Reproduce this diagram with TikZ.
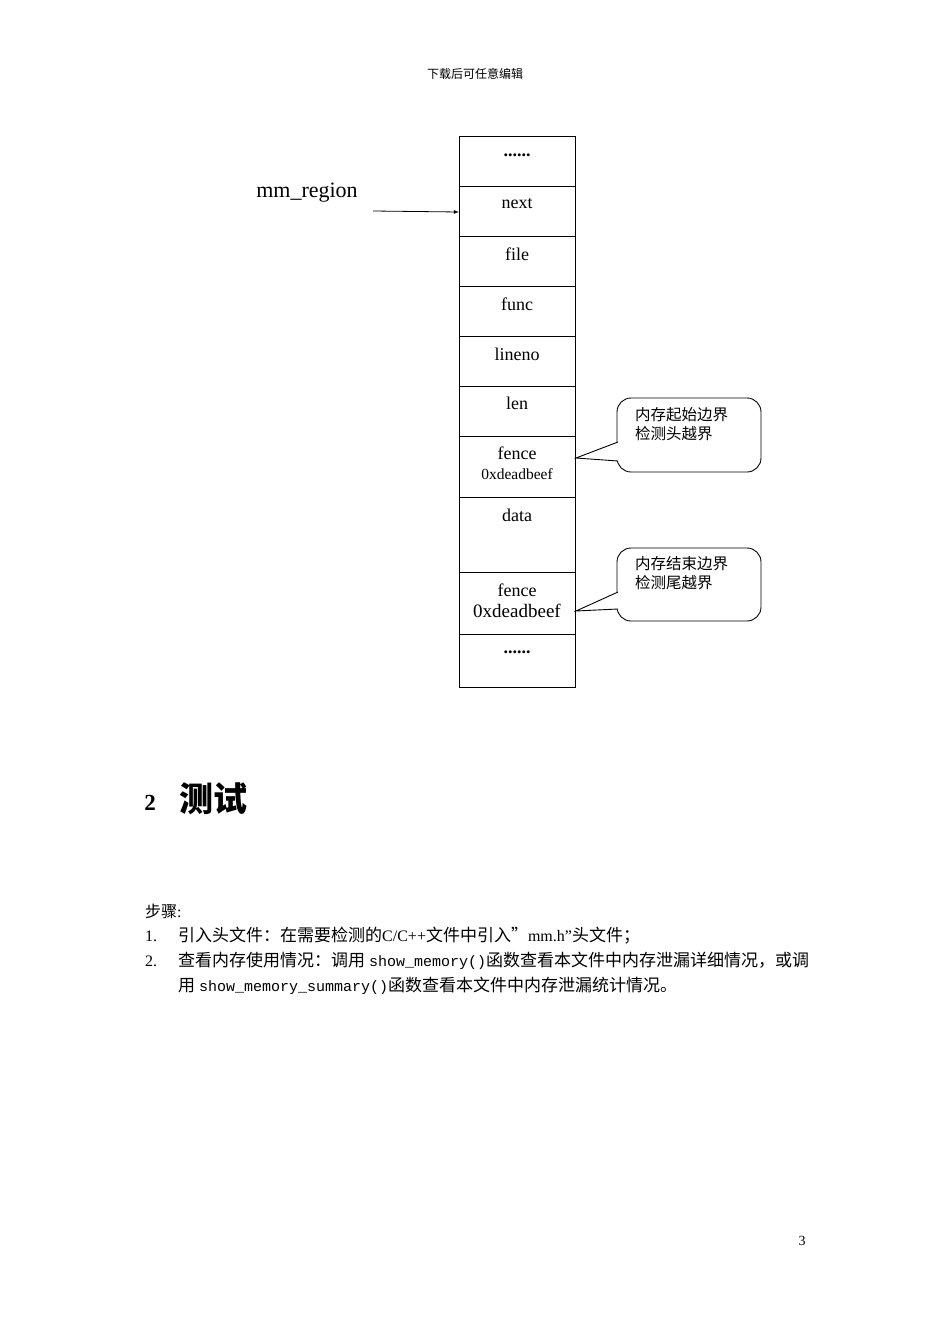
\documentclass[tikz,border=0pt]{standalone}
\usepackage{fontspec}
\setmainfont{Liberation Serif}
\setmonofont{Liberation Mono}
\newfontfamily\cjk{Noto Sans CJK SC}
\begin{document}
\begin{tikzpicture}[x=1pt,y=-1pt,
  cell/.style={draw,line width=0.9pt},
  lab/.style={font=\fontsize{18}{20}\selectfont,inner sep=0},
  note/.style={draw,line width=0.9pt,rounded corners=14pt,fill=white},
  ntext/.style={font=\fontsize{15.5}{19}\selectfont\cjk,align=left,anchor=north west,inner sep=0},
  body/.style={font=\fontsize{16}{18}\selectfont,anchor=west,inner sep=0}]
\useasboundingbox (0,0) rectangle (950,1344);
\node[font=\fontsize{12}{14}\selectfont\cjk] (hdr) at (475,74) {下载后可任意编辑};
% stack
\foreach \a/\b [count=\i] in {136/186,186/236,236/286,286/336,336/386,386/436,436/497,497/572,572/634,634/687}
  \draw[cell] (459,\a) rectangle (575,\b);
\node[lab,font=\fontsize{18}{20}\selectfont\bfseries] (d1) at (517,155) {......};
\node[lab] (next) at (517,204) {next};
\node[lab] (file) at (517,254) {file};
\node[lab] (func) at (517,304) {func};
\node[lab] (lineno) at (517,354) {lineno};
\node[lab] (len) at (517,403) {len};
\node[lab] (f1) at (517,453) {fence};
\node[lab,font=\fontsize{15.5}{17}\selectfont] (h1) at (517,474) {0xdeadbeef};
\node[lab] (data) at (517,515) {data};
\node[lab] (f2) at (517,590) {fence};
\node[lab,font=\fontsize{19}{20}\selectfont] (h2) at (517,611) {0xdeadbeef};
\node[lab,font=\fontsize{18}{20}\selectfont\bfseries] (d2) at (517,652) {......};
\coordinate (nextw) at (459,212);
\node[lab,font=\fontsize{22}{24}\selectfont] (mm) at (307,193) {mm\_region};
\coordinate (mmtail) at (373,211);
\draw[-latex,line width=0.8pt] (mmtail) -- (nextw);
% callouts
\draw[note] (617,398) rectangle (761,472);
\node[ntext] (c1) at (635,407) {内存起始边界\\检测头越界};
\draw[line width=0.9pt,fill=white] (618,442) -- (576,458) -- (618,461);
\draw[note] (617,548) rectangle (761,621);
\node[ntext] (c2) at (635,556) {内存结束边界\\检测尾越界};
\draw[line width=0.9pt,fill=white] (618,592) -- (576,611) -- (618,609);
% heading
\node[font=\fontsize{23}{26}\selectfont\bfseries,inner sep=0] (sec) at (150,803) {2};
\node[font=\fontsize{34}{38}\selectfont\cjk\bfseries,inner sep=0] (sect) at (213,799) {测试};
% body
\node[body] (s0) at (145,911) {\cjk 步骤\rmfamily:};
\node[body] (n1) at (145,936) {1.};
\node[body] (t1) at (178,936) {{\cjk\fontsize{17}{18}\selectfont 引入头文件：在需要检测的}C/C++{\cjk\fontsize{17}{18}\selectfont 文件中引入”}mm.h”{\cjk\fontsize{17}{18}\selectfont 头文件；}};
\node[body] (n2) at (145,961) {2.};
\node[body] (t2) at (178,961) {{\cjk\fontsize{17}{18}\selectfont 查看内存使用情况：调用} {\fontsize{15}{18}\selectfont\ttfamily show\_memory()}{\cjk\fontsize{17}{18}\selectfont 函数查看本文件中内存泄漏详细情况，或调}};
\node[body] (t3) at (178,986) {{\cjk\fontsize{17}{18}\selectfont 用} {\fontsize{15}{18}\selectfont\ttfamily show\_memory\_summary()}{\cjk\fontsize{17}{18}\selectfont 函数查看本文件中内存泄漏统计情况。}};
\node[font=\fontsize{14}{16}\selectfont] (pg) at (802,1241) {3};
\end{tikzpicture}
\end{document}
